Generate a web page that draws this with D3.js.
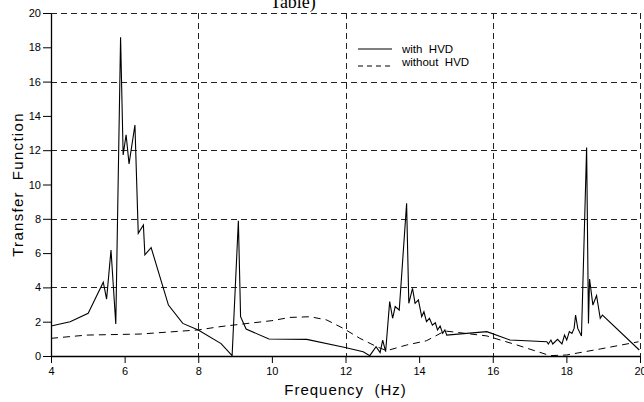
<!DOCTYPE html>
<html>
<head>
<meta charset="utf-8">
<script src="https://cdn.jsdelivr.net/npm/d3@7"></script>
<style>
  body { margin: 0; background: #fff; }
  svg text { font-family: "Liberation Sans", Arial, sans-serif; fill: #000; }
</style>
</head>
<body>
<div id="chart"></div>
<script>
// with HVD (solid)
var withF = [4, 4.52, 5.01, 5.42, 5.51, 5.63, 5.76, 5.89, 5.96, 6.04, 6.12, 6.28, 6.37, 6.51, 6.55, 6.72,
  7.19, 7.58, 8.0, 8.62, 8.92, 9.09, 9.15, 9.30, 9.92, 10.95, 11.99, 12.48, 12.66,
  12.83, 12.94, 13.01, 13.09, 13.2, 13.28, 13.35, 13.46, 13.66, 13.72, 13.82, 13.89, 13.98,
  14.07, 14.13, 14.2, 14.28, 14.36, 14.44, 14.5, 14.57, 14.64, 14.7, 14.75,
  15.84, 16.47, 17.47, 17.51, 17.58, 17.63, 17.76, 17.88, 17.95, 18.01, 18.08, 18.15, 18.21,
  18.25, 18.31, 18.41, 18.55, 18.6, 18.63, 18.72, 18.82, 18.92, 18.98, 19.98];
var withV = [1.75, 2.0, 2.49, 4.3, 3.32, 6.18, 1.87, 18.58, 11.72, 12.9, 11.2, 13.47, 7.15, 7.64, 5.9, 6.32,
  2.97, 1.9, 1.52, 0.72, 0.02, 7.89, 2.29, 1.57, 0.99, 0.97, 0.5, 0.25, 0.02,
  0.54, 0.2, 0.93, 0.25, 3.17, 2.2, 2.88, 2.68, 8.9, 3.07, 3.95, 3.07, 3.27,
  2.29, 2.58, 2.0, 2.2, 1.8, 1.94, 1.52, 1.75, 1.32, 1.52, 1.22,
  1.42, 0.93, 0.83, 0.7, 0.93, 0.7, 0.97, 0.7, 1.22, 0.93, 1.42, 1.32, 1.61,
  2.39, 1.61, 1.17, 12.15, 1.9, 4.49, 2.97, 3.52, 2.2, 2.39, 0.35];

// without HVD (dashed)
var withoutF = [4, 4.97, 6.42, 8.0, 8.59, 9.22, 10.0, 10.49, 11.04, 11.49, 11.94, 12.39, 12.85, 13.12,
  13.66, 14.2, 14.7, 15.84, 16.66, 17.56, 18.01, 18.92, 19.96];
var withoutV = [1.03, 1.22, 1.28, 1.52, 1.71, 1.87, 2.06, 2.25, 2.29, 2.1, 1.61, 1.03, 0.54, 0.31,
  0.64, 0.89, 1.46, 1.17, 0.64, 0.02, 0.06, 0.41, 0.83];

var xTicks = [4, 6, 8, 10, 12, 14, 16, 18, 20];
var yTicks = [0, 2, 4, 6, 8, 10, 12, 14, 16, 18, 20];
var xGrid = [8, 12, 16, 20];
var yGrid = [4, 8, 12, 16, 20];
var seriesNames = ["with  HVD", "without  HVD"];

var W = 644, H = 402;
var margin = {top: 13, right: 4, bottom: 46, left: 51};
var width = W - margin.left - margin.right,
    height = H - margin.top - margin.bottom;

var svg = d3.select("#chart").append("svg")
    .attr("width", W)
    .attr("height", H);

// title fragment cut off at the top
svg.append("text")
    .attr("x", 293).attr("y", 8)
    .attr("text-anchor", "middle")
    .style("font-family", "'Liberation Serif', 'Times New Roman', serif")
    .style("font-size", "18px")
    .text("Table)");

var g = svg.append("g")
    .attr("transform", "translate(" + margin.left + "," + margin.top + ")");

var x = d3.scaleLinear().domain([4, 20]).range([0, width]);
var y = d3.scaleLinear().domain([0, 20]).range([height, 0]);

// grid
g.selectAll(".hgrid").data(yGrid).enter().append("line")
    .attr("x1", 0).attr("x2", width)
    .attr("y1", function(d) { return Math.round(y(d)) + 0.5; })
    .attr("y2", function(d) { return Math.round(y(d)) + 0.5; })
    .attr("stroke", "#222").attr("stroke-width", 1)
    .attr("stroke-dasharray", "6,4");
g.selectAll(".vgrid").data(xGrid).enter().append("line")
    .attr("y1", 0).attr("y2", height)
    .attr("x1", function(d) { return Math.round(x(d)) + 0.5; })
    .attr("x2", function(d) { return Math.round(x(d)) + 0.5; })
    .attr("stroke", "#222").attr("stroke-width", 1)
    .attr("stroke-dasharray", "6,4");

// axes
var xAxis = g.append("g")
    .attr("transform", "translate(0," + height + ")")
    .call(d3.axisBottom(x).tickValues(xTicks).tickSize(7).tickSizeOuter(0).tickPadding(4));
var yAxis = g.append("g")
    .call(d3.axisLeft(y).tickValues(yTicks).tickSize(8).tickSizeOuter(0).tickPadding(2));
[xAxis, yAxis].forEach(function(a) {
  a.select(".domain").attr("stroke", "#000").attr("stroke-width", 1.3);
  a.selectAll(".tick line").attr("stroke", "#000");
  a.selectAll("text").style("font-size", "11px")
    .style("font-family", "'Liberation Sans', Arial, sans-serif");
});

// lines
var lineFn = d3.line()
    .x(function(d) { return x(d[0]); })
    .y(function(d) { return y(d[1]); });

var withData = withF.map(function(f, i) { return [f, withV[i]]; });
var withoutData = withoutF.map(function(f, i) { return [f, withoutV[i]]; });

g.append("path").datum(withoutData)
    .attr("d", lineFn)
    .attr("fill", "none").attr("stroke", "#000").attr("stroke-width", 1)
    .attr("stroke-dasharray", "7,5");
g.append("path").datum(withData)
    .attr("d", lineFn)
    .attr("fill", "none").attr("stroke", "#000").attr("stroke-width", 1.1)
    .attr("stroke-linejoin", "miter");

// legend
var legend = svg.append("g").attr("transform", "translate(358,49)");
legend.selectAll("line").data(seriesNames).enter().append("line")
    .attr("x1", 0).attr("x2", 34)
    .attr("y1", function(d, i) { return i * 17; })
    .attr("y2", function(d, i) { return i * 17; })
    .attr("stroke", "#000").attr("stroke-width", 1)
    .attr("stroke-dasharray", function(d, i) { return i ? "5,4" : null; });
legend.selectAll("text").data(seriesNames).enter().append("text")
    .attr("x", 44)
    .attr("y", function(d, i) { return i * 13 + 4; })
    .style("font-size", "11.5px")
    .style("white-space", "pre")
    .attr("xml:space", "preserve")
    .text(function(d) { return d; });

// axis labels
svg.append("text")
    .attr("x", margin.left + width / 2).attr("y", 395)
    .attr("text-anchor", "middle")
    .style("font-size", "15px")
    .style("letter-spacing", "1px")
    .style("white-space", "pre")
    .text("Frequency  (Hz)");
svg.append("text")
    .attr("transform", "translate(23," + (margin.top + height / 2) + ") rotate(-90)")
    .attr("text-anchor", "middle")
    .style("font-size", "15px")
    .style("letter-spacing", "1.3px")
    .style("white-space", "pre")
    .text("Transfer  Function");
</script>
</body>
</html>
